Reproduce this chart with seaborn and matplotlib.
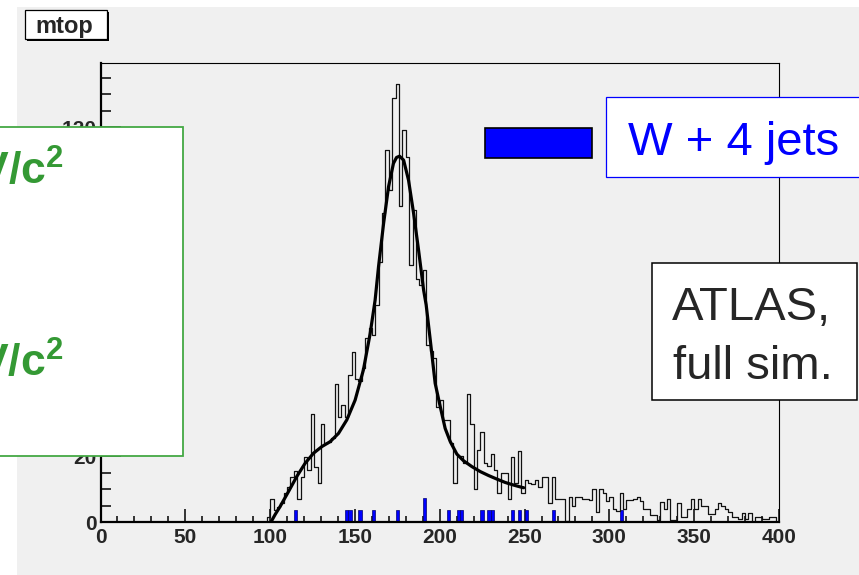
import numpy as np
import pandas as pd
import matplotlib
matplotlib.use("Agg")
import matplotlib.pyplot as plt
from matplotlib.patches import Rectangle
from matplotlib.ticker import MultipleLocator
import seaborn as sns

# reconstructed top mass histogram, 2 GeV bins, first bin starts at 98 GeV
bin_width = 2
first_edge = 98
mtop_counts = [
    1.7, 7.0, 3.8, 4.5, 6.0, 8.8, 10.8, 13.9, 15.7, 7.0,
    13.9, 19.9, 15.9, 32.9, 16.9, 12.0, 29.9, 24.0, 24.5, 25.5,
    41.9, 32.1, 35.6, 32.1, 44.7, 51.8, 43.5, 43.0, 47.0, 56.0,
    59.0, 57.0, 66.0, 79.0, 94.0, 113.0, 101.0, 129.0, 133.0, 96.0,
    119.0, 111.0, 78.0, 95.0, 74.0, 72.0, 76.6, 54.0, 52.0, 50.0,
    35.0, 37.0, 31.0, 31.0, 24.0, 12.0, 20.0, 20.0, 18.0, 39.0,
    30.0, 10.0, 22.0, 27.5, 18.0, 17.0, 20.7, 16.0, 8.8, 15.0,
    15.0, 7.0, 19.7, 12.0, 21.8, 8.8, 12.7, 12.0, 11.5, 12.9,
    10.8, 13.9, 13.9, 6.0, 13.7, 7.0, 7.0, 7.0, 0.4, 7.8,
    5.0, 7.8, 7.6, 7.0, 7.0, 6.8, 10.0, 3.0, 10.0, 9.0,
    6.5, 7.8, 3.9, 3.5, 8.8, 4.0, 6.8, 6.8, 7.0, 7.8,
    6.5, 3.9, 3.9, 2.2, 2.2, 0.7, 6.3, 3.9, 7.0, 0.7,
    0.7, 6.0, 1.7, 1.7, 3.9, 7.0, 3.9, 7.0, 4.8, 4.8,
    2.4, 2.4, 3.9, 6.0, 5.0, 3.9, 3.2, 1.7, 1.7, 0.9,
    2.7, 0.9, 2.7, 0.0, 1.7, 1.7, 0.9, 0.9, 1.7, 1.7,
    0.0,
]

# W + 4 jets background (blue): lower bin edge and height
wjets_lo = [114, 144, 146, 152, 160, 174, 190, 204, 210, 212,
            224, 228, 230, 242, 246, 250, 266, 306]
wjets_h = [3.7, 3.7, 3.7, 3.7, 3.7, 3.7, 7.5, 3.7, 3.7, 3.7,
           3.7, 3.7, 3.7, 3.7, 3.7, 3.7, 3.7, 3.7]

# fitted curve
fit_x = [100.4, 103, 105.9, 110.8, 115.7, 120.6, 125.6, 130.5, 135.4, 140.3,
         145.2, 150.1, 155, 159, 161.9, 163.9, 166.9, 169.8, 172.7, 174.5,
         176.3, 178.7, 181.6, 184.6, 187.5, 190.5, 192, 194.4, 197.3, 200.3,
         203.2, 206.2, 210.1, 214, 219, 223.9, 228.8, 233.8, 238.6, 243.6,
         248.5, 249.5]
fit_y = [0, 2.4, 4.8, 9.3, 13.9, 17.9, 21, 23, 24.5, 27,
         31.1, 37.1, 46.3, 57.4, 67.5, 77.6, 90.8, 101.9, 109, 110.8,
         111.2, 110, 103.9, 93.8, 82.7, 70.5, 66, 55.4, 42.2, 35.1,
         28.5, 24.5, 20.7, 18.7, 16.9, 15.4, 14.2, 13.1, 12.1, 11.3,
         10.6, 10.5]

x_ticks = [0, 50, 100, 150, 200, 250, 300, 350, 400]
y_ticks = [0, 20, 40, 60, 80, 100, 120]

W, H = 859, 575


def fx(px):
    return px / W


def fy(py):
    return 1 - py / H


sns.set_theme(style="ticks")
plt.rcParams["font.family"] = ["Liberation Sans", "DejaVu Sans"]
plt.rcParams["mathtext.fontset"] = "custom"
plt.rcParams["mathtext.rm"] = "Liberation Sans:bold"
plt.rcParams["mathtext.bf"] = "Liberation Sans:bold"

fig = plt.figure(figsize=(W / 100, H / 100), dpi=100, facecolor="white")
# grey canvas
fig.add_artist(Rectangle((fx(17), 0), 1 - fx(17), fy(7), transform=fig.transFigure,
                         facecolor="#f0f0f0", edgecolor="none", zorder=-10))

ax = fig.add_axes([fx(100.5), fy(522.3), fx(779) - fx(100.5), fy(63) - fy(522.3)])
ax.set_facecolor("#f0f0f0")

df_top = pd.DataFrame({
    "mass": first_edge + bin_width * (np.arange(len(mtop_counts)) + 0.5),
    "n": mtop_counts,
})
df_w = pd.DataFrame({"mass": np.array(wjets_lo) + bin_width / 2, "n": wjets_h})

sns.histplot(data=df_top, x="mass", weights="n", binwidth=bin_width, binrange=(0, 400),
             element="step", fill=False, color="#111111", linewidth=0.9, ax=ax)
sns.histplot(data=df_w, x="mass", weights="n", binwidth=bin_width, binrange=(0, 400),
             element="bars", color="#0000ff", edgecolor="#000070", linewidth=0.5,
             alpha=1, ax=ax)
sns.lineplot(x=fit_x, y=fit_y, color="black", linewidth=2.3, estimator=None,
             sort=False, ax=ax)

ax.set_xlim(0, 400)
ax.set_ylim(0, 139.5)
ax.set_xticks(x_ticks)
ax.set_yticks(y_ticks)
ax.xaxis.set_minor_locator(MultipleLocator(10))
ax.yaxis.set_minor_locator(MultipleLocator(5))
ax.set_xlabel("")
ax.set_ylabel("")
ax.tick_params(axis="x", which="major", direction="in", length=9.4, width=1.1,
               labelsize=15, pad=4, color="black")
ax.tick_params(axis="x", which="minor", direction="in", length=4.3, width=1.1, color="black")
ax.tick_params(axis="y", which="major", direction="in", length=14.4, width=1.1,
               labelsize=15, pad=3, color="black")
ax.tick_params(axis="y", which="minor", direction="in", length=7.2, width=1.1, color="black")
for lab in ax.get_xticklabels() + ax.get_yticklabels():
    lab.set_fontweight("bold")
for side in ["left", "bottom"]:
    ax.spines[side].set_linewidth(1.6)
    ax.spines[side].set_color("black")
for side in ["top", "right"]:
    ax.spines[side].set_linewidth(0.8)
    ax.spines[side].set_color("black")

# title box with shadow
fig.add_artist(Rectangle((fx(27), fy(40.5)), 82 / W, 29 / H, transform=fig.transFigure,
                         facecolor="black", edgecolor="none", zorder=3))
fig.add_artist(Rectangle((fx(25), fy(38.5)), 82 / W, 29 / H, transform=fig.transFigure,
                         facecolor="white", edgecolor="black", linewidth=0.9, zorder=4))
fig.text(fx(64), fy(32.5), "mtop", ha="center", va="baseline", fontsize=17,
         fontweight="bold", zorder=5)

# green fit-result box, clipped by the left edge
green = "#349934"
fig.add_artist(Rectangle((fx(-10), fy(456)), 193 / W, 329 / H, transform=fig.transFigure,
                         facecolor="white", edgecolor="#44a844", linewidth=1.3, zorder=3))
fig.text(fx(63.5), fy(185), r"m = 174.6 GeV/c$^{2}$", ha="right", va="baseline",
         fontsize=32, fontweight="bold", color=green, zorder=5)
fig.text(fx(64), fy(376.5), r"$\sigma$ = 11.9 GeV/c$^{2}$", ha="right", va="baseline",
         fontsize=32, fontweight="bold", color=green, zorder=5)

# legend
fig.add_artist(Rectangle((fx(485), fy(158)), 107 / W, 30 / H, transform=fig.transFigure,
                         facecolor="#0000ff", edgecolor="black", linewidth=1.2, zorder=3))
fig.add_artist(Rectangle((fx(606), fy(177)), 260 / W, 80 / H, transform=fig.transFigure,
                         facecolor="white", edgecolor="#0000ff", linewidth=0.9, zorder=3))
fig.text(fx(628), fy(155), "W + 4 jets", ha="left", va="baseline", fontsize=34,
         color="#0000ff", zorder=5)

# label box
fig.add_artist(Rectangle((fx(652), fy(400)), 205 / W, 137 / H, transform=fig.transFigure,
                         facecolor="white", edgecolor="black", linewidth=1.1, zorder=3))
fig.text(fx(672), fy(320.5), "ATLAS,", ha="left", va="baseline", fontsize=34, zorder=5)
fig.text(fx(673), fy(379), "full sim.", ha="left", va="baseline", fontsize=34, zorder=5)

fig.savefig("out.png", dpi=100, facecolor="white")
